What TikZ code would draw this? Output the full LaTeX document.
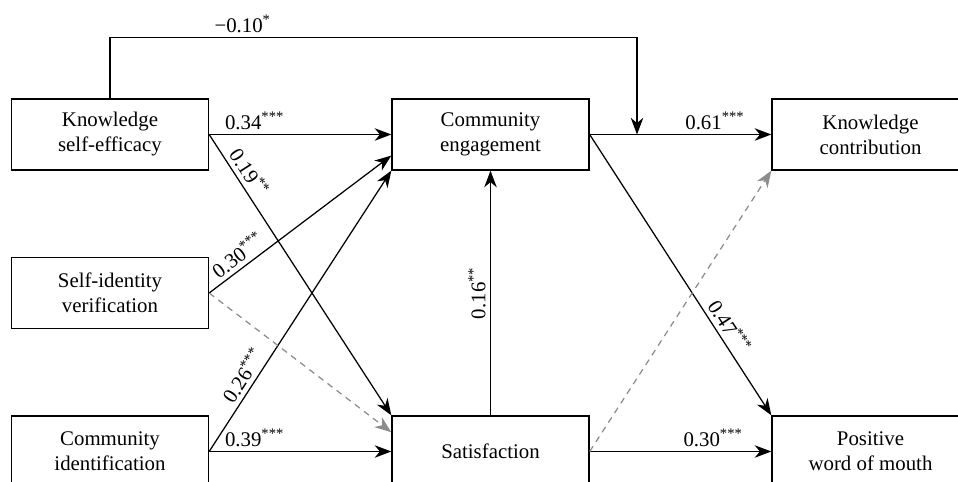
\documentclass[tikz,border=0pt]{standalone}
\usepackage{fontspec}
\setmainfont{Liberation Serif}
\usetikzlibrary{arrows.meta}
\begin{document}
\begin{tikzpicture}[x=0.48pt,y=-0.48pt,
  var/.style={draw,line width=0.6pt,minimum width=94.6pt,minimum height=34.1pt,align=center,inner sep=0pt},
  link/.style={line width=0.6pt,-{Stealth[length=8pt,width=6pt,inset=2.5pt]}},
  ns/.style={black!45,dashed,dash pattern=on 3pt off 2.5pt},
  coef/.style={inner sep=2pt}]
  \useasboundingbox (0,0) rectangle (958,482);
  \clip (0,0) rectangle (958,482);
  \node[var] (kse) at (110,134.5) {Knowledge\\self-efficacy};
  \node[var] (siv) at (110,293) {Self-identity\\verification};
  \node[var] (ci) at (110,451.5) {Community\\identification};
  \node[var] (ce) at (490.5,134.5) {Community\\engagement};
  \node[var] (sat) at (490.5,451.5) {Satisfaction};
  \node[var] (kc) at (870.5,134.5) {Knowledge\\contribution};
  \node[var] (pwm) at (870.5,451.5) {Positive\\word of mouth};
  \coordinate (mod) at (637,134.5);
  \draw[link] (kse.north) -- ++(0,-61) -| node[coef,pos=0.126,above]{−0.10\textsuperscript{*}} (mod);
  \draw[link] (kse.east) -- node[coef,pos=0.25,above]{0.34\textsuperscript{***}} (ce.west);
  \draw[link] (kse.east) -- node[coef,pos=0.16,above,sloped]{0.19\textsuperscript{**}} (sat.north west);
  \draw[link] (siv.east) -- node[coef,pos=0.2,above,sloped]{0.30\textsuperscript{***}} (ce.192);
  \draw[link] (ci.east) -- node[coef,pos=0.245,above,sloped]{0.26\textsuperscript{***}} (ce.south west);
  \draw[link] (ci.east) -- node[coef,pos=0.25,above]{0.39\textsuperscript{***}} (sat.west);
  \draw[link,ns] (siv.east) -- (sat.169);
  \draw[link] (sat.north) -- node[coef,pos=0.5,above,sloped]{0.16\textsuperscript{**}} (ce.south);
  \draw[link] (ce.east) -- node[coef,pos=0.69,above]{0.61\textsuperscript{***}} (kc.west);
  \draw[link] (ce.east) -- node[coef,pos=0.71,above,sloped]{0.47\textsuperscript{***}} (pwm.north west);
  \draw[link] (sat.east) -- node[coef,pos=0.68,above]{0.30\textsuperscript{***}} (pwm.west);
  \draw[link,ns] (sat.east) -- (kc.south west);
\end{tikzpicture}
\end{document}
